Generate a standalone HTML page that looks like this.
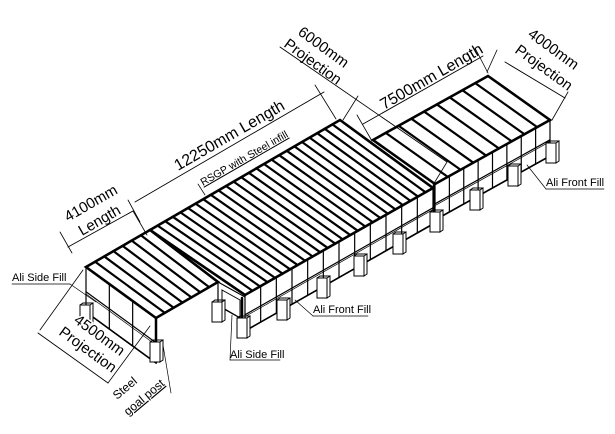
<!DOCTYPE html>
<html><head><meta charset="utf-8"><style>
html,body{margin:0;padding:0;background:#fff;width:615px;height:434px;overflow:hidden}
svg text{font-family:"Liberation Sans",sans-serif;fill:#000}
</style></head><body>
<svg id="s" width="615" height="434" viewBox="0 0 615 434" xmlns="http://www.w3.org/2000/svg">
<g id="g" stroke="#000" fill="none" stroke-linecap="round"></g>
<g font-size="15">
<text transform="translate(68,222) rotate(-30)">4100mm</text>
<text transform="translate(82,236) rotate(-30)">Length</text>
<text transform="translate(178,171) rotate(-30)" font-size="16">12250mm Length</text>
<text transform="translate(203,186) rotate(-30)" font-size="10.5" text-decoration="underline">RSGP with Steel infill</text>
<text transform="translate(297,34) rotate(36)">6000mm</text>
<text transform="translate(283,46) rotate(36)">Projection</text>
<text transform="translate(384,110) rotate(-30)" font-size="16">7500mm Length</text>
<text transform="translate(527,36) rotate(36)">4000mm</text>
<text transform="translate(514,52) rotate(36)">Projection</text>
<rect x="0" y="0" width="0" height="0"/>
<text transform="translate(73,322) rotate(36)" stroke="#fff" stroke-width="3" paint-order="stroke">4500mm</text>
<text transform="translate(58,334) rotate(36)" stroke="#fff" stroke-width="3" paint-order="stroke">Projection</text>
<text transform="translate(117,400) rotate(-40)" font-size="12">Steel</text>
<text transform="translate(128,416) rotate(-40)" font-size="12" text-decoration="underline">goal post</text>
<text x="12" y="281" font-size="11">Ali Side Fill</text>
<text x="230" y="358" font-size="11">Ali Side Fill</text>
<text x="313" y="313" font-size="11">Ali Front Fill</text>
<text x="546" y="186" font-size="11">Ali Front Fill</text>
</g>
</svg>
<script>
var g=document.getElementById('g');
function L(a,b,c,d,w){var e=document.createElementNS('http://www.w3.org/2000/svg','line');e.setAttribute('x1',a);e.setAttribute('y1',b);e.setAttribute('x2',c);e.setAttribute('y2',d);e.setAttribute('stroke-width',w||1);g.appendChild(e);}
function P(pts,w,f){var e=document.createElementNS('http://www.w3.org/2000/svg','polygon');e.setAttribute('points',pts.map(p=>p.join(',')).join(' '));e.setAttribute('stroke-width',w||1);e.setAttribute('fill',f||'none');g.appendChild(e);}
function lerp(a,b,t){return [a[0]+(b[0]-a[0])*t,a[1]+(b[1]-a[1])*t];}
function wall(A,B,h,n){
 var C=[B[0],B[1]+h],D=[A[0],A[1]+h];
 P([A,B,C,D],1.2,'#fff');
 var m1=lerp(A,D,0.55),m2=lerp(B,C,0.55);L(m1[0],m1[1],m2[0],m2[1],1.2);
 var m3=lerp(A,D,0.6),m4=lerp(B,C,0.6);L(m3[0],m3[1],m4[0],m4[1],0.7);
 for(var i=1;i<n;i++){var p=lerp(A,B,i/n);L(p[0],p[1],p[0],p[1]+h,1.2);}
 L(D[0],D[1],C[0],C[1],1.6);
}
function pier(x,y){P([[x,y],[x+10,y],[x+10,y+20],[x,y+20]],1,'#fff');P([[x+10,y],[x+13,y-2],[x+13,y+18],[x+10,y+20]],1,'#fff');L(x,y,x+3,y-2,1);L(x+3,y-2,x+13,y-2,1);}
function roof(A,B,C,D,n){P([A,B,C,D],2.6,'#fff');for(var i=1;i<n;i++){var p=lerp(A,B,i/n),q=lerp(D,C,i/n);L(p[0],p[1],q[0],q[1],2.2);}}
wall([435,184],[550,120],36,8);
roof([373,140],[488,76],[550,120],[435,184],9);
wall([245,295],[433,188],36,12);
roof([150,230],[340,120],[433,188],[245,295],25);
L(218,282,218,320,1.2);L(218,282,245,297,1.2);L(218,305,244,320,1);P([[222,290],[240,300],[240,318],[222,308]],1);
wall([86,267],[156,318],45,3);
roof([86,267],[150,230],[218,282],[156,318],7);
L(156,318,156,362,2.5);L(242,298,242,333,2.5);L(434,186,434,222,2.5);
pier(80,305);pier(150,342);pier(212,302);pier(237,318);pier(277,300);pier(317,278);pier(354,256);pier(393,234);pier(430,212);pier(470,190);pier(508,166);pier(546,143);
function dim(a,b,c,d){L(a,b,c,d,0.9);}
dim(68,247,133,211);L(60,232,72,253,0.8);L(128,200,140,222,0.8);L(133,211,147,235,0.8);
dim(135,202,324,92);L(315,85,336,119,0.8);
dim(280,47,447,162);L(447,162,433,185,0.8);L(358,96,343,120,0.8);
dim(363,124,483,56);L(357,115,372,141,0.8);L(475,48,488,73,0.8);
dim(505,62,565,98);L(497,50,487,72,0.8);L(568,92,552,120,0.8);
dim(38,333,108,383);L(40,330,83,270,0.8);L(108,383,150,326,0.8);
L(12,284,70,284,0.7);L(70,284,96,302,0.7);
L(230,360,280,360,0.7);L(230,360,232,315,0.7);
L(313,316,368,316,0.7);L(313,316,295,300,0.7);
L(546,189,604,189,0.7);L(546,189,527,165,0.7);
L(171,393,163,345,0.7);L(198,184,205,195,0.7);
</script>
</body></html>
